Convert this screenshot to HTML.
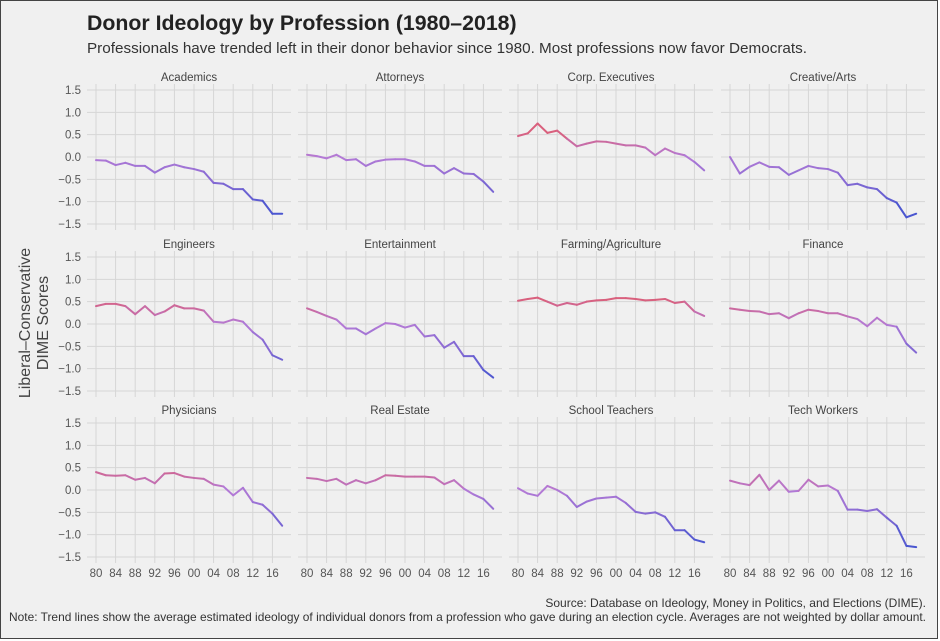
<!DOCTYPE html>
<html><head><meta charset="utf-8"><style>
html,body{margin:0;padding:0;background:#fff;}
#wrap{position:relative;width:936px;height:637px;background:#f0f0f0;border:1px solid #444;overflow:hidden;font-family:"Liberation Sans",sans-serif;}
svg text{font-family:"Liberation Sans",sans-serif;}
</style></head><body>
<div id="wrap">
<svg id="chart" width="936" height="637">
<text x="86" y="29" font-size="21.3" font-weight="bold" fill="#222">Donor Ideology by Profession (1980–2018)</text>
<text x="86" y="52" font-size="15" fill="#333" textLength="720" lengthAdjust="spacingAndGlyphs">Professionals have trended left in their donor behavior since 1980. Most professions now favor Democrats.</text>
<text transform="translate(29,322) rotate(-90)" text-anchor="middle" font-size="16" fill="#444"><tspan x="0" dy="0">Liberal–Conservative</tspan><tspan x="0" dy="18">DIME Scores</tspan></text>
<text x="925" y="606" text-anchor="end" font-size="12" fill="#333">Source: Database on Ideology, Money in Politics, and Elections (DIME).</text>
<text x="925" y="620" text-anchor="end" font-size="12" fill="#333" textLength="917" lengthAdjust="spacingAndGlyphs">Note: Trend lines show the average estimated ideology of individual donors from a profession who gave during an election cycle. Averages are not weighted by dollar amount.</text>
</svg>
</div>
<script>
const professions = ["Academics","Attorneys","Corp. Executives","Creative/Arts","Engineers","Entertainment","Farming/Agriculture","Finance","Physicians","Real Estate","School Teachers","Tech Workers"];
const years = [1980,1982,1984,1986,1988,1990,1992,1994,1996,1998,2000,2002,2004,2006,2008,2010,2012,2014,2016,2018];
const academics = [-0.07,-0.08,-0.18,-0.13,-0.2,-0.2,-0.35,-0.23,-0.17,-0.23,-0.27,-0.33,-0.58,-0.6,-0.72,-0.72,-0.95,-0.98,-1.27,-1.27];
const attorneys = [0.05,0.02,-0.03,0.05,-0.07,-0.05,-0.2,-0.1,-0.06,-0.05,-0.05,-0.1,-0.2,-0.2,-0.37,-0.25,-0.37,-0.38,-0.55,-0.78];
const corpExecutives = [0.47,0.53,0.75,0.54,0.59,0.41,0.24,0.3,0.35,0.34,0.3,0.26,0.26,0.21,0.04,0.19,0.09,0.04,-0.11,-0.3];
const creativeArts = [0.0,-0.37,-0.22,-0.12,-0.22,-0.23,-0.4,-0.3,-0.2,-0.25,-0.27,-0.35,-0.63,-0.6,-0.68,-0.72,-0.92,-1.02,-1.35,-1.27];
const engineers = [0.4,0.45,0.45,0.4,0.22,0.4,0.2,0.28,0.42,0.35,0.35,0.3,0.05,0.03,0.1,0.05,-0.18,-0.35,-0.7,-0.8];
const entertainment = [0.35,0.27,0.18,0.1,-0.1,-0.1,-0.23,-0.1,0.02,0.0,-0.08,-0.02,-0.28,-0.25,-0.53,-0.4,-0.72,-0.72,-1.03,-1.2];
const farming = [0.52,0.56,0.59,0.5,0.41,0.47,0.43,0.5,0.53,0.54,0.58,0.58,0.56,0.53,0.54,0.56,0.47,0.5,0.28,0.18];
const finance = [0.35,0.32,0.29,0.28,0.22,0.24,0.13,0.24,0.32,0.29,0.24,0.24,0.17,0.11,-0.05,0.14,-0.02,-0.06,-0.44,-0.64];
const physicians = [0.4,0.33,0.32,0.33,0.23,0.27,0.15,0.37,0.38,0.3,0.27,0.25,0.12,0.08,-0.12,0.05,-0.27,-0.33,-0.53,-0.8];
const realEstate = [0.27,0.25,0.2,0.25,0.12,0.22,0.15,0.22,0.33,0.32,0.3,0.3,0.3,0.28,0.13,0.22,0.03,-0.1,-0.2,-0.42];
const schoolTeachers = [0.04,-0.08,-0.13,0.09,0,-0.13,-0.38,-0.26,-0.19,-0.17,-0.15,-0.29,-0.49,-0.53,-0.5,-0.6,-0.9,-0.9,-1.11,-1.17];
const techWorkers = [0.21,0.15,0.11,0.34,0,0.21,-0.04,-0.02,0.23,0.08,0.1,-0.02,-0.44,-0.44,-0.47,-0.43,-0.62,-0.8,-1.25,-1.28];
const yTicks = [1.5,1.0,0.5,0.0,-0.5,-1.0,-1.5];
const yTickLabels = ["1.5","1.0","0.5","0.0","−0.5","−1.0","−1.5"];
const xTicks = [1980,1984,1988,1992,1996,2000,2004,2008,2012,2016];
const xTickLabels = ["80","84","88","92","96","00","04","08","12","16"];
const seriesList = [academics,attorneys,corpExecutives,creativeArts,engineers,entertainment,farming,finance,physicians,realEstate,schoolTeachers,techWorkers];

const NS = "http://www.w3.org/2000/svg";
const svg = document.getElementById('chart');
const colX = [86,297,508,720], rowY = [89,256,422];
const PW = 204, PH = 134;
function xs(c, yr){ return colX[c] + 9 + (yr-1980)*4.9; }
function ys(r, v){ return rowY[r] + (1.5 - v) / 3 * PH; }
function mk(tag, attrs){ const e=document.createElementNS(NS,tag); for(const k in attrs) e.setAttribute(k,attrs[k]); return e; }
function lerp(a,b,t){ return a.map((v,i)=>Math.round(v+(b[i]-v)*t)); }
function color(v){
  const red=[217,96,125], mid=[180,122,214], blue=[74,86,208];
  let c;
  if(v>=0){ c = lerp(mid, red, Math.min(1, v/0.55)); }
  else { c = lerp(mid, blue, Math.min(1, -v/1.2)); }
  return 'rgb('+c.join(',')+')';
}
professions.forEach((name, i) => {
  const c = i % 4, r = Math.floor(i / 4);
  const g = mk('g', {});
  
  
  svg.appendChild(g);
  const t = mk('text', {x: colX[c] + PW/2, y: rowY[r] - 9, 'text-anchor':'middle', 'font-size':11.5, fill:'#444'});
  t.textContent = name;
  
  
  g.appendChild(t);
  yTicks.forEach((v, k) => {
    const y = ys(r, v);
    const l = mk('line', {x1: colX[c], x2: colX[c]+PW, y1: y, y2: y, stroke:'#d6d6d6', 'stroke-width':1});
    
    
    g.appendChild(l);
    if (c === 0) {
      const tl = mk('text', {x: colX[c]-6, y: y+4, 'text-anchor':'end', 'font-size':11.5, fill:'#555'});
      tl.textContent = yTickLabels[k];
      
      
      g.appendChild(tl);
    }
  });
  xTicks.forEach((yr, k) => {
    const x = xs(c, yr);
    const l = mk('line', {x1: x, x2: x, y1: rowY[r]-6, y2: rowY[r]+PH+6, stroke:'#d6d6d6', 'stroke-width':1});
    
    
    g.appendChild(l);
    if (r === 2) {
      const tl = mk('text', {x: x, y: rowY[r]+PH+20, 'text-anchor':'middle', 'font-size':11.5, fill:'#555'});
      tl.textContent = xTickLabels[k];
      
      
      g.appendChild(tl);
    }
  });
  const vals = seriesList[i];
  for (let k = 0; k < vals.length - 1; k++) {
    const seg = mk('line', {x1: xs(c, years[k]), y1: ys(r, vals[k]), x2: xs(c, years[k+1]), y2: ys(r, vals[k+1]),
      stroke: color((vals[k]+vals[k+1])/2), 'stroke-width':2, 'stroke-linecap':'round'});
    
    
    g.appendChild(seg);
  }
});
</script>
</body></html>
